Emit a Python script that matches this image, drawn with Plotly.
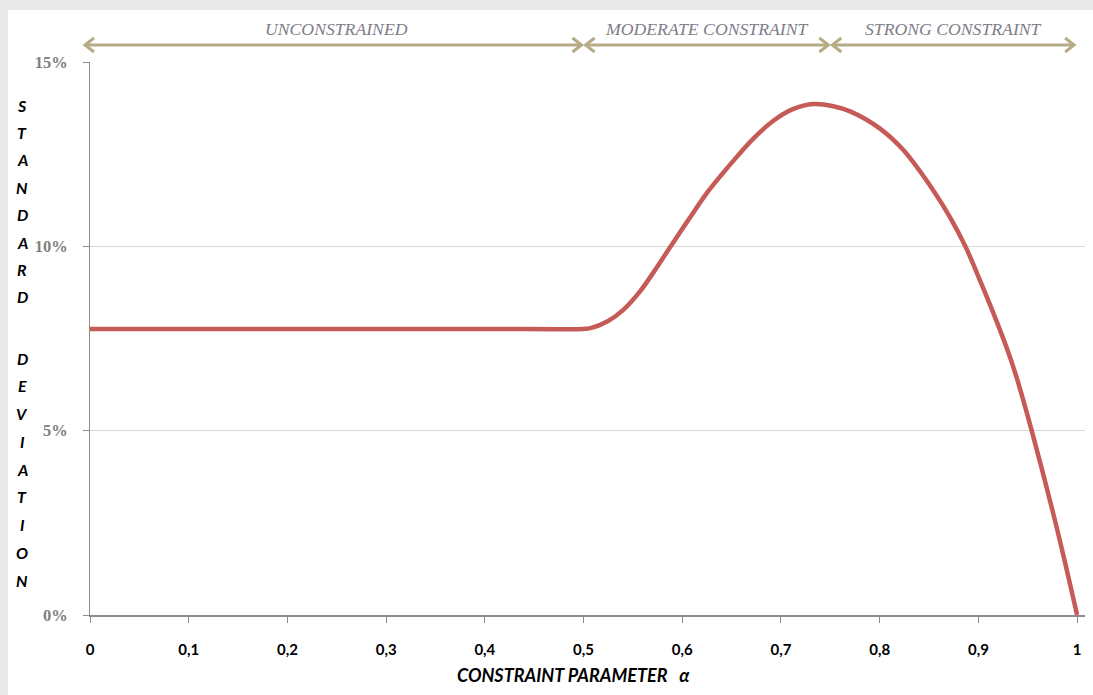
import plotly.graph_objects as go

# ---- data ----
alpha = [0.0, 0.1, 0.2, 0.3, 0.4, 0.5, 0.507, 0.524, 0.540, 0.557, 0.571, 0.588, 0.605,
         0.625, 0.640, 0.655, 0.672, 0.692, 0.712, 0.733, 0.753, 0.770, 0.800, 0.824,
         0.854, 0.871, 0.887, 0.902, 0.915, 0.929, 0.939, 0.954, 0.980, 1.0]
std_dev = [7.76, 7.76, 7.76, 7.76, 7.76, 7.76, 7.78, 7.96, 8.27, 8.77, 9.3, 9.99, 10.67,
           11.45, 11.95, 12.42, 12.92, 13.4, 13.72, 13.86, 13.8, 13.66, 13.2, 12.61,
           11.53, 10.8, 9.99, 9.05, 8.2, 7.22, 6.42, 5.0, 2.3, 0.0]

x_tickvals = [0, 0.1, 0.2, 0.3, 0.4, 0.5, 0.6, 0.7, 0.8, 0.9, 1.0]
x_ticktext = ["0", "0,1", "0,2", "0,3", "0,4", "0,5", "0,6", "0,7", "0,8", "0,9", "1"]
y_tickvals = [0, 5, 10, 15]
y_ticktext = ["0%", "5%", "10%", "15%"]

region_bounds = [0.0, 0.5, 0.75, 1.0]
region_labels = ["UNCONSTRAINED", "MODERATE CONSTRAINT", "STRONG CONSTRAINT"]

y_title_letters = list("STANDARD") + list("DEVIATION")

# ---- layout geometry ----
W, H = 1093, 695
ML, MR, MT, MB = 90, 8, 62, 80
XR = [0, 1.008]
YR = [0, 15]
PW = W - ML - MR
PH = H - MT - MB


def xpaper(a, dpx=0):
    return (a - XR[0]) / (XR[1] - XR[0]) + dpx / PW


def ypaper_px(py):
    # py: pixel from top of the figure
    return (H - MB - py) / PH


fig = go.Figure()
fig.add_trace(go.Scatter(
    x=alpha, y=std_dev, mode="lines",
    line=dict(color="#C55A57", width=4.5, shape="spline", smoothing=0.9),
    showlegend=False, hoverinfo="skip"))

shapes = []
annotations = []

# background shadow frame (grey band at top and left)
shapes.append(dict(type="rect", xref="paper", yref="paper", layer="below",
                   x0=(8 - ML) / PW, x1=(W - ML) / PW + 0.01,
                   y0=ypaper_px(H + 5), y1=ypaper_px(10),
                   fillcolor="white", line=dict(width=0)))

arrow_color = "#B5AC86"
arrow_y = ypaper_px(45)
for i, lab in enumerate(region_labels):
    a0, a1 = region_bounds[i], region_bounds[i + 1]
    x0 = xpaper(a0, -5 if i == 0 else 2)
    x1 = xpaper(a1, -2 if i < 2 else -3)
    shapes.append(dict(type="line", xref="paper", yref="paper",
                       x0=x0, x1=x1, y0=arrow_y, y1=arrow_y,
                       line=dict(color=arrow_color, width=3)))
    shapes.append(dict(type="path", xref="paper", yref="paper",
                       xsizemode="pixel", ysizemode="pixel",
                       xanchor=x0, yanchor=arrow_y,
                       path="M 9,-7 L 0,0 L 9,7",
                       line=dict(color=arrow_color, width=3)))
    shapes.append(dict(type="path", xref="paper", yref="paper",
                       xsizemode="pixel", ysizemode="pixel",
                       xanchor=x1, yanchor=arrow_y,
                       path="M -9,-7 L 0,0 L -9,7",
                       line=dict(color=arrow_color, width=3)))
    annotations.append(dict(xref="paper", yref="paper",
                            x=xpaper((a0 + a1) / 2), y=ypaper_px(29),
                            text=lab, showarrow=False,
                            font=dict(family="Liberation Serif", size=17.7,
                                      color="#7E7E88", style="italic"),
                            xanchor="center", yanchor="middle"))

# vertical stacked y title
for i, ch in enumerate(y_title_letters):
    if i < 8:
        py = 105 + 27.4 * i
    else:
        py = 358 + 27.75 * (i - 8)
    annotations.append(dict(xref="paper", yref="paper",
                            x=(22 - ML) / PW, y=ypaper_px(py),
                            text="<b><i>" + ch + "</i></b>", showarrow=False,
                            font=dict(family="Lato", size=16, color="black"),
                            xanchor="center", yanchor="middle"))

# x axis title
annotations.append(dict(xref="paper", yref="paper",
                        x=xpaper(0.490), y=ypaper_px(675),
                        text="<b><i>CONSTRAINT PARAMETER   \u03b1</i></b>",
                        showarrow=False,
                        font=dict(family="Lato", size=18, color="black"),
                        xanchor="center", yanchor="middle"))

fig.update_layout(
    width=W, height=H,
    margin=dict(l=ML, r=MR, t=MT, b=MB),
    paper_bgcolor="#E9E9E9", plot_bgcolor="white",
    shapes=shapes, annotations=annotations,
    xaxis=dict(range=XR, tickvals=x_tickvals, ticktext=x_ticktext,
               showgrid=False, zeroline=False,
               showline=True, linecolor="#8C8C8C", linewidth=2,
               ticks="outside", ticklen=6, tickcolor="#8C8C8C", tickwidth=1,
               ticklabelstandoff=14,
               tickfont=dict(family="Lato", size=15, color="black", weight="bold")),
    yaxis=dict(range=YR, tickvals=y_tickvals, ticktext=y_ticktext,
               showgrid=True, gridcolor="#D9D9D9", gridwidth=1, zeroline=False,
               showline=True, linecolor="#8C8C8C", linewidth=1,
               ticks="outside", ticklen=6, tickcolor="#8C8C8C",
               ticklabelstandoff=12,
               tickfont=dict(family="Liberation Serif", size=16.5, color="#808080",
                             weight="bold")),
)

fig.write_html("out.html",
               config={"displayModeBar": False},
               post_script="document.body.style.margin='0px';document.body.style.overflow='hidden';")
